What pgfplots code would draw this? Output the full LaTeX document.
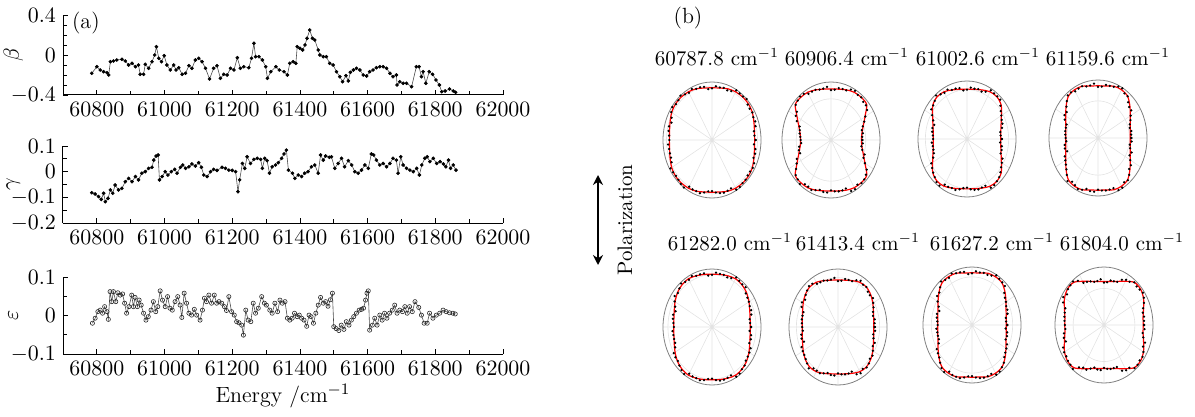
\documentclass[border=0pt]{standalone}
\usepackage{pgfplots}
\pgfplotsset{compat=1.18}
\usepackage{pgfplotstable}
\usepgfplotslibrary{polar}
\usetikzlibrary{arrows.meta}

\pgfplotstableread{
a r1 r2 r3 r4 r5 r6 r7 r8 d1 d2 d3 d4 d5 d6 d7 d8
0 .87 .62 .69 .66 .78 .73 .70 .80 .89 .64 .71 .68 .80 .75 .72 .82
10 .88 .64 .70 .67 .79 .74 .71 .81 .87 .66 .69 .69 .78 .76 .70 .83
20 .91 .70 .74 .70 .82 .77 .74 .86 .94 .69 .77 .69 .85 .76 .77 .85
30 .95 .80 .81 .76 .87 .82 .80 .93 .95 .81 .81 .77 .87 .83 .80 .94
40 .97 .95 .91 .85 .92 .87 .88 .97 .95 .93 .89 .83 .90 .85 .86 .95
50 .97 .96 .95 .94 .95 .90 .95 .96 .98 .96 .96 .94 .96 .90 .96 .96
60 .96 .95 .94 .96 .96 .89 .96 .87 .99 .98 .97 .99 .99 .92 .99 .90
70 .94 .92 .90 .95 .94 .85 .95 .80 .91 .91 .87 .94 .91 .84 .92 .79
80 .91 .89 .87 .91 .92 .82 .91 .76 .92 .91 .88 .93 .93 .84 .92 .78
90 .90 .88 .86 .90 .91 .81 .90 .75 .89 .86 .85 .88 .90 .79 .89 .73
100 .91 .89 .87 .91 .92 .82 .91 .76 .93 .90 .89 .92 .94 .83 .93 .77
110 .94 .92 .90 .95 .94 .85 .95 .80 .94 .92 .90 .95 .94 .85 .95 .80
120 .96 .95 .94 .96 .96 .89 .96 .87 .94 .92 .92 .93 .94 .86 .94 .84
130 .97 .96 .95 .94 .95 .90 .95 .96 1.00 .98 .98 .96 .98 .92 .98 .98
140 .97 .95 .91 .85 .92 .87 .88 .97 .96 .94 .90 .84 .91 .86 .87 .96
150 .95 .80 .81 .76 .87 .82 .80 .93 .96 .83 .82 .79 .88 .85 .81 .96
160 .91 .70 .74 .70 .82 .77 .74 .86 .88 .68 .71 .68 .79 .75 .71 .84
170 .88 .64 .70 .67 .79 .74 .71 .81 .90 .65 .72 .68 .81 .75 .73 .82
180 .87 .62 .69 .66 .78 .73 .70 .80 .87 .62 .69 .66 .78 .73 .70 .80
190 .88 .64 .70 .67 .79 .74 .71 .81 .89 .66 .71 .69 .80 .76 .72 .83
200 .91 .70 .74 .70 .82 .77 .74 .86 .89 .67 .72 .67 .80 .74 .72 .83
210 .95 .80 .81 .76 .87 .82 .80 .93 .98 .81 .84 .77 .90 .83 .83 .94
220 .97 .95 .91 .85 .92 .87 .88 .97 .96 .94 .90 .84 .91 .86 .87 .96
230 .97 .96 .95 .94 .95 .90 .95 .96 .99 .99 .97 .97 .97 .93 .97 .99
240 .96 .95 .94 .96 .96 .89 .96 .87 .93 .93 .91 .94 .93 .87 .93 .85
250 .94 .92 .90 .95 .94 .85 .95 .80 .94 .92 .90 .95 .94 .85 .95 .80
260 .91 .89 .87 .91 .92 .82 .91 .76 .92 .91 .88 .93 .93 .84 .92 .78
270 .90 .88 .86 .90 .91 .81 .90 .75 .88 .87 .84 .89 .89 .80 .88 .74
280 .91 .89 .87 .91 .92 .82 .91 .76 .93 .90 .89 .92 .94 .83 .93 .77
290 .94 .92 .90 .95 .94 .85 .95 .80 .93 .89 .89 .92 .93 .82 .94 .77
300 .96 .95 .94 .96 .96 .89 .96 .87 .99 .98 .97 .99 .99 .92 .99 .90
310 .97 .96 .95 .94 .95 .90 .95 .96 .97 .97 .95 .95 .95 .91 .95 .97
320 .97 .95 .91 .85 .92 .87 .88 .97 .95 .93 .89 .83 .90 .85 .86 .95
330 .95 .80 .81 .76 .87 .82 .80 .93 .96 .80 .82 .76 .88 .82 .81 .93
340 .91 .70 .74 .70 .82 .77 .74 .86 .90 .73 .73 .73 .81 .80 .73 .89
350 .88 .64 .70 .67 .79 .74 .71 .81 .90 .63 .72 .66 .81 .73 .73 .80
360 .87 .62 .69 .66 .78 .73 .70 .80 .89 .64 .71 .68 .80 .75 .72 .82
}\ptab

\pgfplotstableread{
a e1 e2 e3 e4 e5 e6 e7 e8
5 .87 .64 .69 .68 .78 .75 .70 .82
15 .92 .65 .74 .67 .83 .74 .75 .82
25 .93 .75 .78 .73 .85 .80 .77 .90
35 .94 .90 .84 .83 .88 .87 .82 .97
45 1.00 .93 .96 .87 .97 .86 .95 .94
55 .98 .95 .96 .94 .97 .89 .97 .91
65 .93 .96 .90 .98 .93 .89 .94 .86
75 .93 .91 .89 .93 .93 .84 .93 .78
85 .93 .87 .89 .89 .94 .80 .93 .74
95 .88 .92 .84 .94 .89 .85 .88 .79
105 .94 .90 .90 .92 .94 .83 .94 .77
115 .97 .92 .94 .94 .97 .85 .98 .82
125 .96 .97 .94 .96 .95 .91 .95 .93
135 .97 .96 .93 .90 .94 .89 .92 .97
145 .99 .85 .89 .78 .93 .82 .87 .92
155 .91 .77 .76 .75 .83 .82 .75 .92
165 .91 .66 .73 .68 .82 .75 .74 .83
175 .88 .63 .70 .67 .79 .74 .71 .81
185 .90 .61 .72 .65 .81 .72 .73 .79
195 .89 .68 .71 .70 .80 .77 .72 .85
205 .91 .77 .76 .75 .83 .82 .75 .92
215 .97 .87 .87 .80 .91 .84 .85 .94
225 .97 .96 .93 .90 .94 .89 .92 .97
235 1.00 .93 .98 .92 .99 .87 .99 .89
245 .94 .95 .91 .97 .94 .88 .95 .85
255 .95 .89 .91 .91 .95 .82 .95 .76
265 .89 .91 .85 .93 .90 .84 .89 .78
275 .91 .89 .87 .91 .92 .82 .91 .76
285 .94 .90 .90 .92 .94 .83 .94 .77
295 .92 .97 .89 .99 .92 .90 .93 .87
305 .99 .94 .97 .93 .98 .88 .98 .90
315 .97 .96 .93 .90 .94 .89 .92 .97
325 .95 .89 .85 .82 .89 .86 .83 .96
335 .95 .73 .80 .71 .87 .78 .79 .88
345 .91 .66 .73 .68 .82 .75 .74 .83
355 .86 .65 .68 .69 .77 .76 .69 .83
}\etab

\pgfplotsset{
  leftax/.style={scale only axis, width=220pt, xmin=60700, xmax=62000,
    axis lines*=left, xtick={60800,61000,...,62000}, minor x tick num=1,
    tick align=inside, major tick length=2.5pt, minor tick length=2pt,
    scaled x ticks=false, scaled y ticks=false,
    x tick label style={/pgf/number format/.cd, 1000 sep={}},
    tick label style={font=\fontsize{10.5}{12}\selectfont},
    label style={font=\fontsize{11}{13}\selectfont},
    axis line style={line width=0.5pt}, tick style={line width=0.4pt, black},
    ylabel style={at={(axis description cs:-0.113,0.5)}, anchor=center},
    clip=false},
  lineplot/.style={gray!60!black, line width=0.3pt, mark=*, mark size=0.75pt,
    mark options={black, fill=black}},
  mypolar/.style={scale only axis, width=49pt, height=58pt, anchor=center,
    ymin=0, ymax=1, xtick={0,30,...,330}, xticklabels={}, yticklabels={},
    grid=major, major grid style={gray!22, line width=0.3pt},
    axis line style={gray, line width=0.4pt}, y axis line style={draw=none},
    tick style={draw=none}},
  fitc/.style={red, line width=0.6pt, smooth},
  dotc/.style={only marks, mark=*, mark size=0.35pt, black}
}

\begin{document}
\begin{tikzpicture}
\path[use as bounding box] (0,0) rectangle (597.5pt,-208.5pt);

% ---------------- beta
\begin{axis}[leftax, at={(31.5pt,-47.5pt)}, anchor=south west, height=40pt,
  ymin=-0.4, ymax=0.4, ytick={-0.4,0,0.4}, minor y tick num=3, ylabel={$\beta$}]
\addplot[lineplot] coordinates {(60785,-0.183)(60800,-0.117)(60810,-0.15)(60820,-0.167)(60830,-0.177)(60835,-0.2)(60840,-0.067)(60849,-0.06)(60859,-0.05)(60874,-0.043)(60884,-0.06)(60894,-0.1)(60904,-0.083)(60914,-0.117)(60923,-0.1)(60928,-0.193)(60938,-0.193)(60943,-0.093)(60953,-0.133)(60963,-0.067)(60971,0.0)(60976,0.083)(60983,-0.033)(60991,-0.067)(60999,-0.007)(61007,-0.1)(61017,-0.15)(61027,-0.1)(61034,-0.15)(61042,-0.127)(61052,-0.193)(61062,-0.183)(61072,-0.107)(61081,-0.133)(61091,-0.05)(61101,-0.033)(61111,-0.067)(61121,-0.133)(61133,-0.24)(61145,-0.133)(61155,-0.107)(61165,-0.233)(61175,-0.193)(61185,-0.2)(61195,-0.133)(61205,-0.15)(61215,-0.027)(61224,-0.133)(61234,-0.117)(61249,-0.127)(61257,-0.033)(61264,0.117)(61269,-0.017)(61279,-0.017)(61289,-0.05)(61299,-0.117)(61304,-0.233)(61314,-0.167)(61329,-0.117)(61339,-0.15)(61353,-0.167)(61363,-0.2)(61370,-0.083)(61380,-0.067)(61388,-0.083)(61392,0.083)(61400,0.067)(61408,0.05)(61415,0.1)(61421,0.167)(61429,0.25)(61437,0.167)(61444,0.15)(61454,0.05)(61459,0.0)(61469,-0.017)(61478,-0.017)(61488,-0.083)(61498,-0.1)(61508,-0.167)(61518,-0.217)(61526,-0.267)(61536,-0.207)(61543,-0.26)(61549,-0.173)(61558,-0.15)(61567,-0.133)(61577,-0.15)(61587,-0.2)(61597,-0.21)(61606,-0.167)(61616,-0.15)(61626,-0.127)(61636,-0.117)(61646,-0.117)(61656,-0.133)(61666,-0.183)(61675,-0.217)(61685,-0.2)(61687,-0.3)(61695,-0.267)(61705,-0.283)(61715,-0.283)(61730,-0.317)(61744,-0.117)(61752,-0.117)(61759,-0.217)(61764,-0.167)(61772,-0.283)(61782,-0.167)(61792,-0.193)(61802,-0.25)(61812,-0.3)(61819,-0.367)(61829,-0.36)(61842,-0.34)(61853,-0.36)(61860,-0.373)};
\node[anchor=center, font=\fontsize{11}{13}\selectfont] at (rel axis cs:0.052,0.9) {(a)};
\end{axis}

% ---------------- gamma
\begin{axis}[leftax, at={(31.5pt,-111.5pt)}, anchor=south west, height=38.5pt,
  ymin=-0.2, ymax=0.1, ytick={-0.2,-0.1,0,0.1}, minor y tick num=1, ylabel={$\gamma$}]
\addplot[lineplot] coordinates {(60785,-0.082)(60795,-0.087)(60805,-0.097)(60813,-0.108)(60820,-0.084)(60825,-0.117)(60833,-0.104)(60840,-0.071)(60847,-0.084)(60854,-0.052)(60864,-0.071)(60874,-0.065)(60884,-0.039)(60894,-0.026)(60904,-0.039)(60914,-0.019)(60923,-0.032)(60933,-0.006)(60943,0.0)(60953,0.013)(60963,0.017)(60968,0.045)(60975,0.061)(60981,0.065)(60985,-0.032)(60993,-0.019)(61002,0.0)(61010,-0.013)(61020,0.0)(61030,0.009)(61037,-0.006)(61047,0.017)(61054,0.026)(61062,0.013)(61072,0.019)(61081,0.03)(61091,0.022)(61101,0.035)(61109,0.017)(61116,-0.013)(61126,-0.019)(61136,0.0)(61145,0.009)(61155,0.005)(61170,0.017)(61180,0.013)(61190,0.006)(61200,0.005)(61210,0.0)(61217,-0.078)(61222,-0.032)(61230,0.032)(61237,0.013)(61244,0.058)(61254,0.032)(61264,0.048)(61274,0.052)(61284,0.048)(61289,0.013)(61296,0.052)(61303,0.043)(61310,-0.006)(61318,0.019)(61328,0.026)(61336,0.035)(61346,0.052)(61353,0.069)(61360,0.084)(61366,0.006)(61378,-0.006)(61385,-0.026)(61395,-0.013)(61405,-0.019)(61414,-0.006)(61424,0.0)(61434,0.019)(61444,0.026)(61454,-0.006)(61461,0.065)(61469,0.045)(61476,0.061)(61487,0.056)(61493,0.058)(61503,0.013)(61513,0.032)(61523,0.052)(61532,0.019)(61543,0.043)(61553,0.026)(61562,0.0)(61572,-0.006)(61582,0.006)(61592,0.026)(61602,0.013)(61611,0.069)(61618,0.065)(61626,0.045)(61636,0.026)(61646,0.032)(61656,0.019)(61666,0.032)(61675,0.052)(61685,0.045)(61690,-0.006)(61698,0.058)(61705,0.026)(61715,0.013)(61725,0.006)(61735,0.0)(61745,0.013)(61753,-0.013)(61760,0.026)(61769,0.052)(61776,0.058)(61784,0.039)(61794,0.052)(61804,0.032)(61814,0.039)(61824,0.030)(61831,0.019)(61839,0.045)(61845,0.013)(61853,0.026)(61861,0.006)};
\end{axis}

% ---------------- epsilon
\begin{axis}[leftax, at={(31.5pt,-177pt)}, anchor=south west, height=38.5pt,
  ymin=-0.1, ymax=0.1, ytick={-0.1,0,0.1}, minor y tick num=1, ylabel={$\varepsilon$},
  xlabel={Energy /cm$^{-1}$}, xlabel style={at={(axis description cs:0.5,0)}, anchor=center, yshift=-21pt}]
\addplot[gray!60!black, line width=0.3pt, mark=o, mark size=1.05pt, mark options={fill=white, draw=black!85, line width=0.3pt}] coordinates {(60787,-0.020)(60795,-0.007)(60803,0.010)(60810,0.014)(60817,0.006)(60823,0.023)(60830,0.010)(60834,-0.010)(60839,0.062)(60844,0.036)(60849,0.062)(60856,0.036)(60862,0.059)(60869,0.053)(60876,0.056)(60882,0.032)(60888,0.006)(60895,0.023)(60903,0.053)(60908,0.023)(60913,0.047)(60920,0.023)(60925,0.040)(60931,0.027)(60938,0.006)(60945,-0.012)(60952,-0.003)(60960,0.014)(60967,0.036)(60974,0.010)(60980,0.023)(60987,0.064)(60994,0.040)(61002,0.023)(61009,0.049)(61016,0.019)(61023,0.014)(61031,0.036)(61039,0.049)(61046,0.027)(61051,-0.005)(61058,0.058)(61065,0.032)(61072,0.006)(61080,0.001)(61088,0.016)(61095,0.001)(61105,-0.012)(61112,0.014)(61118,0.045)(61124,0.036)(61131,0.053)(61139,0.032)(61147,0.053)(61154,0.032)(61161,0.036)(61169,0.032)(61177,0.023)(61183,0.013)(61190,0.049)(61198,0.010)(61206,0.001)(61213,-0.016)(61220,-0.019)(61228,-0.025)(61233,-0.051)(61240,0.014)(61247,-0.012)(61255,-0.016)(61262,0.032)(61269,0.006)(61277,0.019)(61287,0.049)(61295,0.032)(61301,0.027)(61311,0.014)(61318,0.006)(61326,0.032)(61334,0.010)(61341,0.040)(61348,0.032)(61356,0.036)(61363,-0.007)(61370,-0.012)(61377,-0.007)(61384,0.006)(61392,-0.003)(61398,0.001)(61405,-0.007)(61412,-0.012)(61420,-0.028)(61427,0.001)(61433,-0.003)(61440,-0.020)(61447,0.006)(61454,0.027)(61461,0.047)(61469,0.032)(61476,0.036)(61483,0.024)(61490,0.041)(61496,0.058)(61500,-0.029)(61507,-0.034)(61515,-0.039)(61522,-0.025)(61530,-0.036)(61537,-0.016)(61545,-0.025)(61552,-0.012)(61559,-0.003)(61567,0.006)(61575,0.014)(61582,0.016)(61588,0.019)(61594,0.040)(61598,0.058)(61602,0.064)(61606,-0.038)(61614,-0.025)(61621,-0.007)(61628,-0.025)(61636,0.001)(61643,-0.012)(61650,0.006)(61657,-0.007)(61665,0.006)(61673,0.014)(61680,0.027)(61687,0.006)(61695,0.014)(61703,0.010)(61710,0.023)(61717,0.006)(61724,0.023)(61732,0.010)(61740,0.036)(61751,0.021)(61759,0.001)(61767,-0.020)(61776,-0.020)(61783,0.006)(61793,-0.007)(61803,0.001)(61813,0.006)(61823,0.014)(61832,0.010)(61842,0.007)(61852,0.006)(61859,0.004)};
\end{axis}

% ---------------- polarization arrow
\draw[line width=1.2pt, {Stealth[length=5pt,width=5pt]}-{Stealth[length=5pt,width=5pt]}] (299pt,-87.5pt) -- (299pt,-132.5pt);
\node[rotate=90, font=\fontsize{10.5}{12}\selectfont] at (312.5pt,-110pt) {Polarization};
\node[font=\fontsize{11}{13}\selectfont] at (344pt,-9pt) {(b)};

% ---------------- titles
\begin{scope}[every node/.style={font=\fontsize{10.5}{12}\selectfont}]
\node at (358.5pt,-28.5pt) {60787.8 cm$^{-1}$};
\node at (423.5pt,-28.5pt) {60906.4 cm$^{-1}$};
\node at (489pt,-28.5pt) {61002.6 cm$^{-1}$};
\node at (554pt,-28.5pt) {61159.6 cm$^{-1}$};
\node at (365pt,-121pt) {61282.0 cm$^{-1}$};
\node at (429pt,-121pt) {61413.4 cm$^{-1}$};
\node at (496pt,-121pt) {61627.2 cm$^{-1}$};
\node at (561pt,-121pt) {61804.0 cm$^{-1}$};
\end{scope}

% ---------------- polar plots
\begin{polaraxis}[mypolar, at={(356pt,-70pt)}, ytick={0.93}]
\addplot[fitc] table[x=a,y=r1] {\ptab};
\addplot[dotc] table[x=a,y=d1] {\ptab};
\addplot[dotc] table[x=a,y=e1] {\etab};
\end{polaraxis}
\begin{polaraxis}[mypolar, at={(415.5pt,-70pt)}, ytick={0.71}]
\addplot[fitc] table[x=a,y=r2] {\ptab};
\addplot[dotc] table[x=a,y=d2] {\ptab};
\addplot[dotc] table[x=a,y=e2] {\etab};
\end{polaraxis}
\begin{polaraxis}[mypolar, at={(483.5pt,-69.5pt)}, ytick={0.85}]
\addplot[fitc] table[x=a,y=r3] {\ptab};
\addplot[dotc] table[x=a,y=d3] {\ptab};
\addplot[dotc] table[x=a,y=e3] {\etab};
\end{polaraxis}
\begin{polaraxis}[mypolar, at={(549pt,-69pt)}, ytick={0.64}]
\addplot[fitc] table[x=a,y=r4] {\ptab};
\addplot[dotc] table[x=a,y=d4] {\ptab};
\addplot[dotc] table[x=a,y=e4] {\etab};
\end{polaraxis}
\begin{polaraxis}[mypolar, at={(356pt,-163.5pt)}, ytick={0.9}]
\addplot[fitc] table[x=a,y=r5] {\ptab};
\addplot[dotc] table[x=a,y=d5] {\ptab};
\addplot[dotc] table[x=a,y=e5] {\etab};
\end{polaraxis}
\begin{polaraxis}[mypolar, at={(419pt,-163.5pt)}, ytick={0.85}]
\addplot[fitc] table[x=a,y=r6] {\ptab};
\addplot[dotc] table[x=a,y=d6] {\ptab};
\addplot[dotc] table[x=a,y=e6] {\etab};
\end{polaraxis}
\begin{polaraxis}[mypolar, at={(486pt,-162.5pt)}, ytick={0.83}]
\addplot[fitc] table[x=a,y=r7] {\ptab};
\addplot[dotc] table[x=a,y=d7] {\ptab};
\addplot[dotc] table[x=a,y=e7] {\etab};
\end{polaraxis}
\begin{polaraxis}[mypolar, at={(552pt,-162.5pt)}, ytick={0.63}]
\addplot[fitc] table[x=a,y=r8] {\ptab};
\addplot[dotc] table[x=a,y=d8] {\ptab};
\addplot[dotc] table[x=a,y=e8] {\etab};
\end{polaraxis}
\end{tikzpicture}
\end{document}
